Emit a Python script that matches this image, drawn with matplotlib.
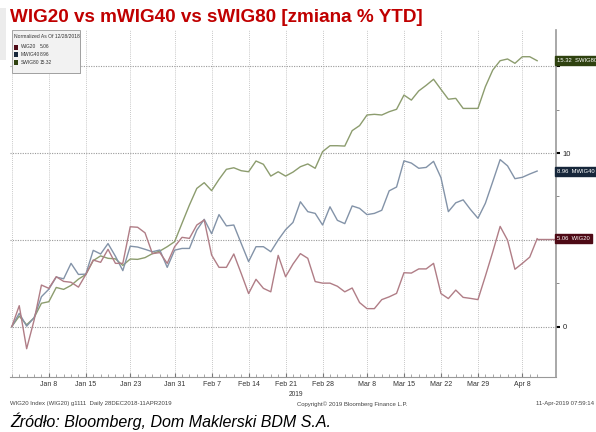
import numpy as np
import matplotlib
matplotlib.use('Agg')
import matplotlib.pyplot as plt
from matplotlib.patches import Rectangle
from matplotlib import font_manager

# --- dane (zmiana % od 28.12.2018, sesje) ---
wig20 = [0, 1.2, -1.28, 0.35, 2.39, 2.2, 2.87, 2.6, 2.55, 2.27,
         3.0, 3.83, 3.7, 4.45, 3.64, 3.64, 5.75, 5.72, 5.4, 4.2,
         4.26, 3.64, 4.6, 5.14, 5.08, 5.85, 6.14, 4.12, 3.41, 3.41,
         4.18, 3.06, 1.9, 2.72, 2.2, 2.0, 4.1, 2.87, 3.6, 4.2,
         3.93, 2.59, 2.5, 2.5, 2.32, 2.0, 2.22, 1.38, 1.03, 1.03,
         1.55, 1.71, 1.91, 3.1, 3.08, 3.32, 3.32, 3.64, 1.9, 1.61,
         2.1, 1.68, 1.62, 1.55, 2.9, 4.3, 5.77, 4.98, 3.3, 3.64,
         4.0, 5.06]
mwig40 = [0, 0.76, 0.02, 0.5, 1.72, 2.15, 2.85, 2.75, 3.64, 3.0,
          3.02, 4.39, 4.18, 4.78, 4.05, 3.22, 4.63, 4.58, 4.45, 4.31,
          4.41, 3.41, 4.4, 4.5, 4.5, 5.56, 6.18, 5.35, 6.45, 5.8,
          5.85, 4.79, 3.74, 4.6, 4.6, 4.31, 4.99, 5.58, 6.0, 7.19,
          6.62, 6.52, 5.85, 6.9, 6.12, 5.93, 6.95, 6.81, 6.45, 6.52,
          6.7, 7.82, 8.04, 9.55, 9.42, 9.12, 9.17, 9.52, 8.58, 6.62,
          7.13, 7.3, 6.74, 6.24, 7.1, 8.35, 9.62, 9.26, 8.52, 8.6,
          8.79, 8.96]
swig80 = [0, 0.6, 0.1, 0.5, 1.34, 1.43, 2.25, 2.14, 2.37, 2.73,
          3.0, 3.8, 4.07, 3.93, 3.9, 3.52, 3.89, 3.87, 3.97, 4.2,
          4.35, 4.6, 4.89, 5.95, 7.0, 7.96, 8.29, 7.83, 8.48, 9.06,
          9.15, 8.98, 8.92, 9.54, 9.35, 8.67, 8.92, 8.67, 8.9, 9.21,
          9.37, 9.12, 10.08, 10.42, 10.42, 10.4, 11.29, 11.58, 12.19, 12.23,
          12.19, 12.38, 12.52, 13.34, 13.05, 13.58, 13.9, 14.25, 13.67, 13.1,
          13.15, 12.57, 12.57, 12.57, 13.82, 14.78, 15.32, 15.42, 15.17, 15.55,
          15.55, 15.32]
days = np.arange(len(wig20))

tick_idx = [5, 10, 16, 22, 27, 32, 37, 42, 48, 53, 58, 63, 69]
tick_lbl = ['Jan 8', 'Jan 15', 'Jan 23', 'Jan 31', 'Feb 7', 'Feb 14', 'Feb 21',
            'Feb 28', 'Mar 8', 'Mar 15', 'Mar 22', 'Mar 29', 'Apr 8']
y_ticks = [0, 5, 10, 15]
y_lbl = ['0', '', '10', '']   # 5 i 15 zasloniete przez etykiety wartosci

# kolory
c_wig20, c_mwig40, c_swig80 = '#b07d86', '#8393a8', '#8c9c6e'
d_wig20, d_mwig40, d_swig80 = '#4e0a16', '#16263a', '#2f4210'

names = {f.name for f in font_manager.fontManager.ttflist}
SMALL = 'Liberation Sans Narrow' if 'Liberation Sans Narrow' in names else 'Liberation Sans'

W, H = 596, 432
fig = plt.figure(figsize=(W / 100, H / 100), dpi=100)


def fx(px):
    return px / W


def fy(py):
    return 1 - py / H


ax = fig.add_axes([fx(10), fy(377), fx(556) - fx(10), fy(30) - fy(377)])
XMAX = 73.55
ax.set_xlim(-0.25, XMAX)
ax.set_ylim(-2.91, 17.09)

# siatka
for t in [0] + tick_idx:
    ax.axvline(t, color='#b5b5b5', lw=0.6, ls=(0, (1, 1.5)), zorder=0)
for v in y_ticks:
    ax.axhline(v, color='#999999', lw=0.8, ls=(0, (1, 1.2)), zorder=0)

ax.plot(days, swig80, color=c_swig80, lw=1.0, zorder=3)
ax.plot(days, mwig40, color=c_mwig40, lw=1.0, zorder=3)
ax.plot(days, wig20, color=c_wig20, lw=1.0, zorder=3)
ax.plot([days[-1], XMAX], [wig20[-1], wig20[-1]], color=c_wig20, lw=1.0, zorder=3)

for s in ['left', 'top']:
    ax.spines[s].set_visible(False)
ax.spines['right'].set_color('#999999')
ax.spines['bottom'].set_color('#999999')
ax.spines['right'].set_linewidth(1.2)
ax.spines['bottom'].set_linewidth(0.8)

ax.set_xticks(tick_idx)
ax.set_xticklabels(tick_lbl, fontsize=5, family=SMALL, color='#333333')
ax.set_xticks(days, minor=True)
ax.tick_params(axis='x', which='major', length=3, color='#777777', pad=3, direction='in')
ax.tick_params(axis='x', which='minor', length=2, color='#999999', direction='in')

ax.yaxis.tick_right()
ax.set_yticks(y_ticks)
ax.set_yticklabels(y_lbl, fontsize=5.5, family=SMALL, color='#222222')
ax.set_yticks([2.5, 7.5, 12.5], minor=True)
ax.tick_params(axis='y', which='major', length=3, width=1.5, color='black', pad=2)
ax.tick_params(axis='y', which='minor', length=2, color='#777777')

# etykiety ostatnich wartosci
last = [(wig20[-1], 'WIG20', d_wig20), (mwig40[-1], 'MWIG40', d_mwig40),
        (swig80[-1], 'SWIG80', d_swig80)]
for val, name, col in last:
    ax.text(1.002, val, f'{val:.2f}  {name}', transform=ax.get_yaxis_transform(),
            fontsize=4.2, family=SMALL, color='white', va='center', ha='left', zorder=10,
            bbox=dict(boxstyle='square,pad=0.35', fc=col, ec=col), clip_on=False)

# legenda w lewym gornym rogu
fig.patches.append(Rectangle((fx(0), fy(60)), fx(6), fy(8) - fy(60),
                             transform=fig.transFigure, fc='#ececec', ec='none'))
fig.patches.append(Rectangle((fx(13), fy(74)), fx(68), fy(31) - fy(74),
                             transform=fig.transFigure, fc='#bbbbbb', ec='none', zorder=5))
fig.patches.append(Rectangle((fx(12), fy(73)), fx(68), fy(30) - fy(73),
                             transform=fig.transFigure, fc='#f2f2f2', ec='#999999', lw=0.6, zorder=6))
fig.text(fx(14.5), fy(37), 'Normalized As Of 12/28/2018', fontsize=3.6, family=SMALL,
         color='#333333', va='center', zorder=7)
for k, (val, name, col) in enumerate(last):
    yy = 47 + k * 7.5
    fig.patches.append(Rectangle((fx(13.5), fy(yy + 2.5)), fx(4), fy(yy - 2.5) - fy(yy + 2.5),
                                 transform=fig.transFigure, fc=col, ec='none', zorder=7))
    fig.text(fx(20.5), fy(yy), name, fontsize=3.5, family=SMALL, color='#333333',
             va='center', zorder=7)
    fig.text(fx(40), fy(yy), f'{val:.2f}', fontsize=3.5, family=SMALL, color='#333333',
             va='center', zorder=7)

# tytul i stopki
fig.text(fx(10), fy(17), 'WIG20 vs mWIG40 vs sWIG80 [zmiana % YTD]', fontsize=13.6,
         fontweight='bold', color='#c00000', family='Liberation Sans', va='center')
fig.text(fx(10 + 11.7 + 7.40 * 37), fy(395), '2019', fontsize=4.8, family=SMALL,
         color='#333333', ha='center', va='center')
fig.text(fx(10), fy(404), 'WIG20 Index (WIG20) g1111  Daily 28DEC2018-11APR2019', fontsize=4.3,
         family=SMALL, color='#444444', va='center')
fig.text(fx(297), fy(404), 'Copyright\u00a9 2019 Bloomberg Finance L.P.', fontsize=4.3,
         family=SMALL, color='#444444', va='center')
fig.text(fx(594), fy(404), '11-Apr-2019 07:59:14', fontsize=4.3, family=SMALL,
         color='#444444', va='center', ha='right')
fig.text(fx(10), fy(421), 'Źródło: Bloomberg, Dom Maklerski BDM S.A.', fontsize=11.5,
         style='italic', family='Liberation Sans', color='black', va='center')

fig.savefig('out.png', dpi=100)
